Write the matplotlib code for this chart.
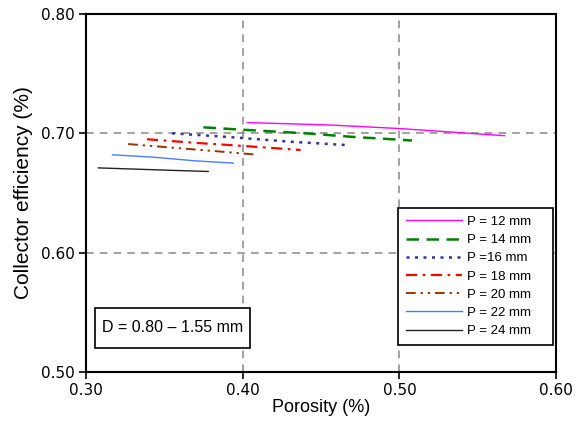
import matplotlib
matplotlib.use("Agg")
import matplotlib.pyplot as plt
from matplotlib.patches import Rectangle

plt.rcParams["font.family"] = ["Liberation Sans", "DejaVu Sans"]

# porosity (x) and collector efficiency (y) for each spacing P
labels = ["P = 12 mm", "P = 14 mm", "P =16 mm", "P = 18 mm", "P = 20 mm", "P = 22 mm", "P = 24 mm"]
x12 = [0.403, 0.455, 0.500, 0.567]
y12 = [0.709, 0.707, 0.704, 0.698]
x14 = [0.375, 0.400, 0.440, 0.470, 0.508]
y14 = [0.705, 0.703, 0.700, 0.697, 0.694]
x16 = [0.355, 0.390, 0.430, 0.468]
y16 = [0.700, 0.697, 0.693, 0.690]
x18 = [0.339, 0.370, 0.405, 0.437]
y18 = [0.695, 0.692, 0.689, 0.686]
x20 = [0.327, 0.355, 0.383, 0.410]
y20 = [0.691, 0.688, 0.685, 0.682]
x22 = [0.317, 0.343, 0.369, 0.394]
y22 = [0.682, 0.680, 0.677, 0.675]
x24 = [0.308, 0.331, 0.354, 0.378]
y24 = [0.671, 0.670, 0.669, 0.668]

series = [(x12, y12), (x14, y14), (x16, y16), (x18, y18), (x20, y20), (x22, y22), (x24, y24)]
colors = ["#ff00ff", "#008000", "#333399", "#ff0000", "#993300", "#4a7dff", "#222222"]
styles = ["-", (0, (5, 3)), (0, (1.2, 2.2)), (0, (5, 2.5, 1.2, 2.5)),
          (0, (5, 2.5, 1.2, 2.5, 1.2, 2.5)), "-", "-"]
widths = [1.0, 1.8, 1.8, 1.6, 1.4, 1.0, 1.0]

fig = plt.figure(figsize=(5.8, 4.25), dpi=100)
ax = fig.add_axes([0.148, 0.125, 0.811, 0.842])

for (xs, ys), lab, c, ls, lw in zip(series, labels, colors, styles, widths):
    ax.plot(xs, ys, color=c, linestyle=ls, linewidth=lw, label=lab)

ax.set_xlim(0.30, 0.60)
ax.set_ylim(0.50, 0.80)
ax.set_xticks([0.30, 0.40, 0.50, 0.60])
ax.set_yticks([0.50, 0.60, 0.70, 0.80])
ax.set_xticklabels(["0.30", "0.40", "0.50", "0.60"], family="DejaVu Sans")
ax.set_yticklabels(["0.50", "0.60", "0.70", "0.80"], family="DejaVu Sans")
ax.tick_params(direction="out", length=5, width=1.2, labelsize=11, pad=3)
ax.grid(True, color="#888888", linestyle=(0, (5, 4)), linewidth=1.1)
ax.set_axisbelow(True)
for s in ax.spines.values():
    s.set_linewidth(1.5)

ax.set_xlabel("Porosity (%)", fontsize=13, labelpad=1)
ax.set_ylabel("Collector efficiency (%)", fontsize=15, labelpad=6)

# one column + expand mode: the spare width ends up on the right, like the original
leg = ax.legend(loc="lower left", bbox_to_anchor=(0.664, 0.075, 0.33, 0.0), mode="expand",
                fontsize=9.5, handlelength=4.2, frameon=True, fancybox=False, framealpha=1,
                edgecolor="black", borderpad=0.6, labelspacing=0.45, handletextpad=0.45,
                borderaxespad=0)
leg.get_frame().set_linewidth(1.2)

ax.add_patch(Rectangle((0.019, 0.067), 0.33, 0.112, transform=ax.transAxes,
                       facecolor="white", edgecolor="black", linewidth=1.2, zorder=4))
ax.text(0.034, 0.123, "D = 0.80 \u2013 1.55 mm", transform=ax.transAxes, fontsize=11.5,
        va="center", ha="left", zorder=5)

fig.savefig("out.png", dpi=100)
